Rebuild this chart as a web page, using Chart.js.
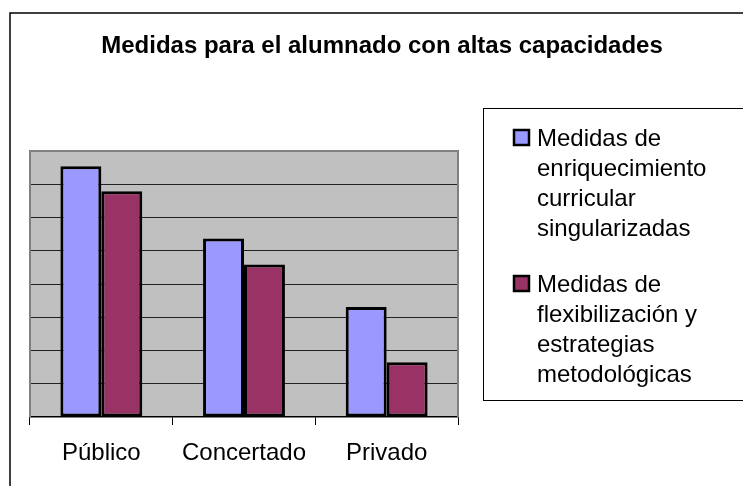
<!DOCTYPE html>
<html>
<head>
<meta charset="utf-8">
<script src="https://cdn.jsdelivr.net/npm/chart.js@4.4.1/dist/chart.umd.min.js"></script>
<style>
  html, body { margin: 0; padding: 0; background: #fff; }
  #wrap { width: 743px; height: 486px; }
</style>
</head>
<body>
<div id="wrap"><canvas id="grafico"></canvas></div>
<script>
// Datos
const titulo = "Medidas para el alumnado con altas capacidades";
const categorias = ["Público", "Concertado", "Privado"];
const enriquecimiento = [7.54, 5.37, 3.31];
const flexibilizacion = [6.79, 4.59, 1.65];
const leyendaEnriquecimiento = ["Medidas de", "enriquecimiento", "curricular", "singularizadas"];
const leyendaFlexibilizacion = ["Medidas de", "flexibilización y", "estrategias", "metodológicas"];

const fuente = "'Liberation Sans', Arial, sans-serif";

// Marco, fondo gris, título y leyenda al estilo Excel
const marcoExcel = {
    id: "marcoExcel",
    beforeDraw(chart) {
        const ctx = chart.ctx;
        const a = chart.chartArea;
        ctx.save();
        ctx.fillStyle = "#fff";
        ctx.fillRect(0, 0, chart.width, chart.height);
        ctx.fillStyle = "#c0c0c0";
        ctx.fillRect(a.left, a.top, a.right - a.left, a.bottom - a.top);
        ctx.restore();
    },
    afterDraw(chart) {
        const ctx = chart.ctx;
        const a = chart.chartArea;
        ctx.save();

        // borde gris del área de trazado
        ctx.strokeStyle = "#808080";
        ctx.lineWidth = 2;
        ctx.beginPath();
        ctx.moveTo(a.left, a.bottom);
        ctx.lineTo(a.left, a.top);
        ctx.lineTo(a.right, a.top);
        ctx.lineTo(a.right, a.bottom);
        ctx.stroke();

        // marco exterior
        ctx.strokeStyle = "#000";
        ctx.lineWidth = 1.5;
        ctx.strokeRect(10, 13, 800, 600);

        // título
        ctx.fillStyle = "#000";
        ctx.font = "bold 24px " + fuente;
        ctx.textAlign = "center";
        ctx.textBaseline = "alphabetic";
        ctx.fillText(titulo, 382, 53);

        // leyenda
        ctx.fillStyle = "#fff";
        ctx.fillRect(483, 108, 400, 292);
        ctx.strokeStyle = "#000";
        ctx.lineWidth = 1;
        ctx.strokeRect(483.5, 108.5, 400, 292);

        ctx.font = "24px " + fuente;
        ctx.textAlign = "left";
        const bloques = [
            { lineas: leyendaEnriquecimiento, ds: chart.data.datasets[0], base: 146 },
            { lineas: leyendaFlexibilizacion, ds: chart.data.datasets[1], base: 292 }
        ];
        bloques.forEach(b => {
            ctx.fillStyle = b.ds.backgroundColor;
            ctx.fillRect(513, b.base - 17, 17, 17);
            ctx.strokeStyle = "#000";
            ctx.lineWidth = 2.5;
            ctx.strokeRect(514, b.base - 16, 15, 15);
            ctx.fillStyle = "#000";
            b.lineas.forEach((linea, i) => {
                ctx.fillText(linea, 537, b.base + i * 30);
            });
        });
        ctx.restore();
    }
};

const ctx = document.getElementById("grafico").getContext("2d");
new Chart(ctx, {
    type: "bar",
    data: {
        labels: categorias,
        datasets: [{
            label: leyendaEnriquecimiento.join(" "),
            data: enriquecimiento,
            backgroundColor: "#9999ff",
            borderColor: "#000",
            borderWidth: 3,
            borderSkipped: false,
            categoryPercentage: 0.574,
            barPercentage: 1
        }, {
            label: leyendaFlexibilizacion.join(" "),
            data: flexibilizacion,
            backgroundColor: "#993366",
            borderColor: "#000",
            borderWidth: 3,
            borderSkipped: false,
            categoryPercentage: 0.574,
            barPercentage: 1
        }]
    },
    options: {
        responsive: true,
        maintainAspectRatio: false,
        animation: false,
        layout: { padding: { left: 30, top: 151, right: 285, bottom: 0 } },
        plugins: {
            legend: { display: false },
            title: { display: false },
            tooltip: { enabled: false }
        },
        scales: {
            x: {
                grid: {
                    offset: true,
                    drawOnChartArea: false,
                    drawTicks: true,
                    tickLength: 8,
                    color: "#000",
                    lineWidth: 1
                },
                border: { display: true, color: "#000", width: 1.5 },
                ticks: {
                    color: "#000",
                    font: { family: fuente, size: 24 },
                    padding: 14,
                    maxRotation: 0
                },
                afterFit: scale => { scale.height = 69; }
            },
            y: {
                min: 0,
                max: 8,
                ticks: { display: false, stepSize: 1 },
                grid: {
                    drawTicks: false,
                    color: c => (c.tick.value === 0 || c.tick.value === 8) ? "rgba(0,0,0,0)" : "#222",
                    lineWidth: 1
                },
                border: { display: false },
                afterFit: scale => { scale.width = 0; }
            }
        }
    },
    plugins: [marcoExcel]
});
</script>
</body>
</html>
